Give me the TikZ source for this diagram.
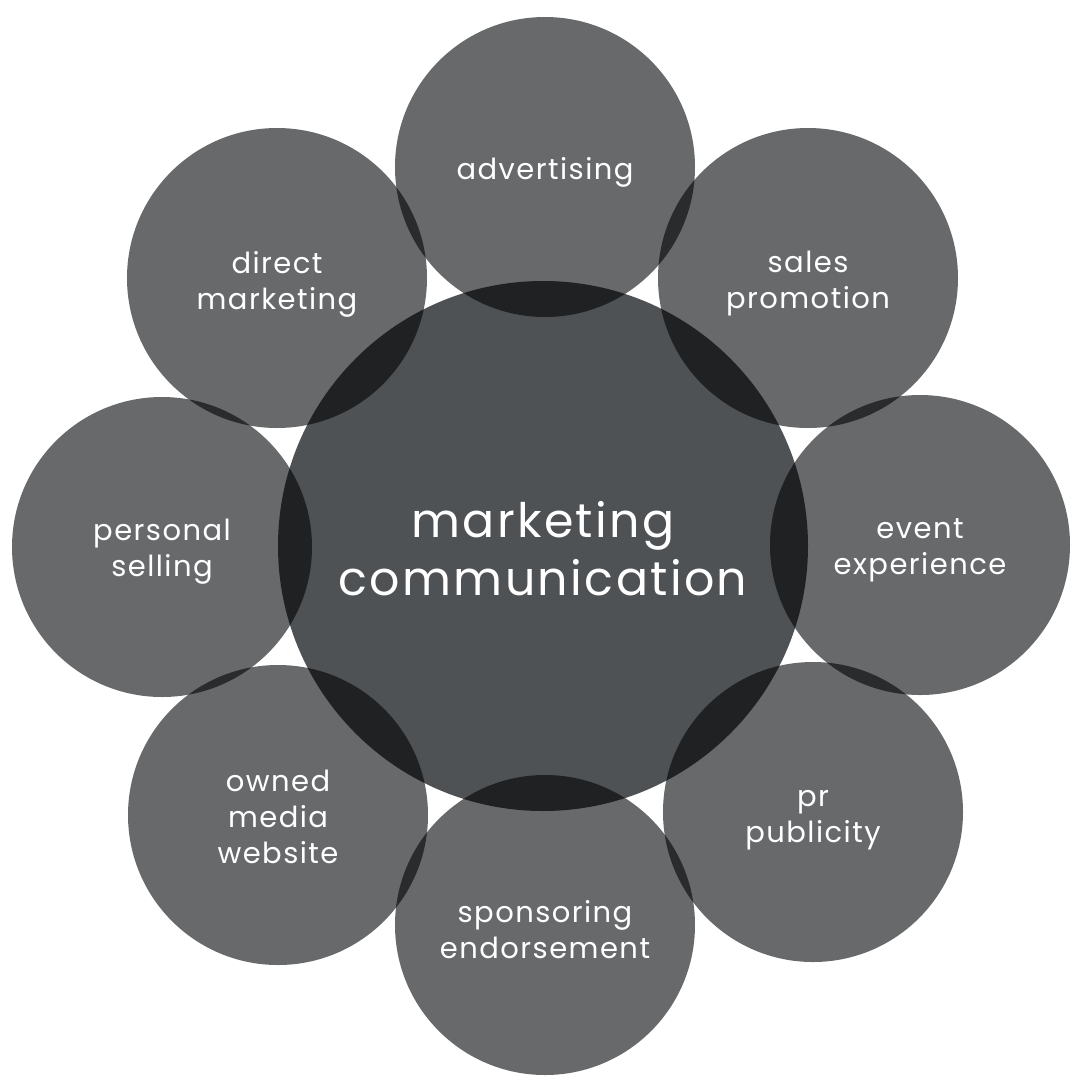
\documentclass[tikz,border=0pt]{standalone}
\usepackage{fontspec}
\setmainfont{Poppins}[LetterSpace=5]
\definecolor{outerc}{RGB}{103,105,107}
\definecolor{centerc}{RGB}{79,82,85}
\begin{document}
\begin{tikzpicture}[x=1pt,y=-1pt,
  outer/.style={circle,fill=outerc,minimum size=300pt,inner sep=0pt},
  lbl/.style={text=white,align=center,font=\fontsize{29}{36}\selectfont},
  biglbl/.style={text=white,align=center,font=\fontsize{47.5}{58}\selectfont}]
\useasboundingbox[fill=white] (0,0) rectangle (1080,1080);
\begin{scope}[blend group=multiply]
\node[circle,fill=centerc,minimum size=530pt,inner sep=0pt] (center) at (543,546) {};
\node[outer] (adv) at (545,167) {};
\node[outer] (sales) at (808,278) {};
\node[outer] (event) at (920,545) {};
\node[outer] (pr) at (813,812) {};
\node[outer] (spons) at (545,925) {};
\node[outer] (owned) at (278,815) {};
\node[outer] (pers) at (162,547) {};
\node[outer] (direct) at (277,278) {};
\end{scope}
\node[biglbl] (tc) at (543,549) {marketing\\communication};
\node[lbl] (tadv) at (545,172) {advertising};
\node[lbl] (tsales) at (808,284) {sales\\promotion};
\node[lbl] (tevent) at (920,550) {event\\experience};
\node[lbl] (tpr) at (813,820) {pr\\publicity};
\node[lbl] (tspons) at (545,930) {sponsoring\\endorsement};
\node[lbl] (towned) at (278,817) {owned\\media\\website};
\node[lbl] (tpers) at (162,552) {personal\\selling};
\node[lbl] (tdirect) at (277,284) {direct\\marketing};
\end{tikzpicture}
\end{document}
